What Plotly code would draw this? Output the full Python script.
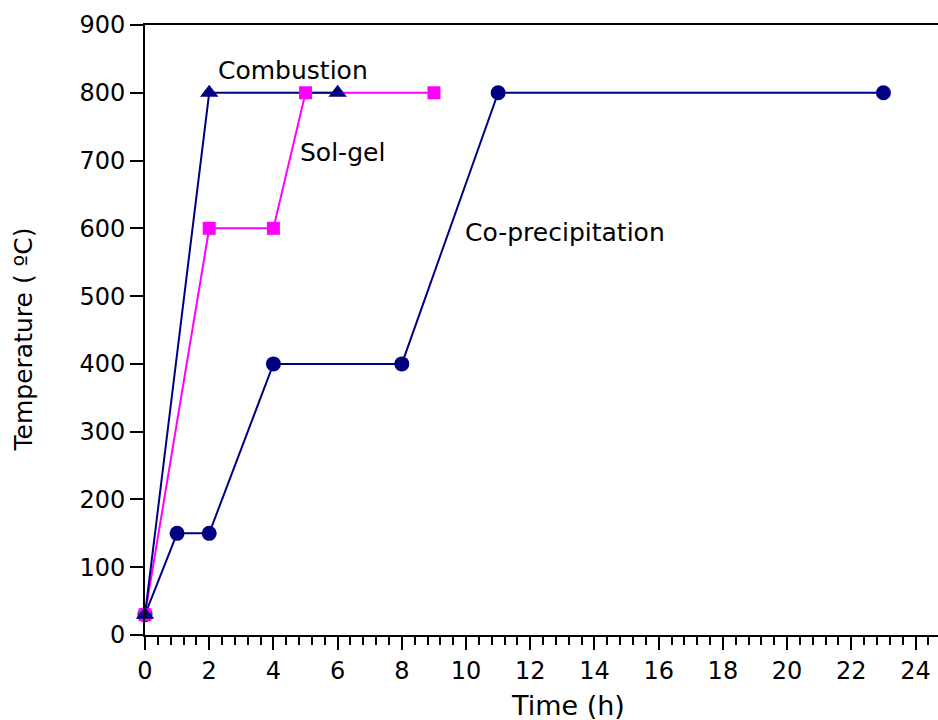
import plotly.graph_objects as go

# Heat-treatment programmes for the three synthesis routes
combustion_time = [0, 2, 6]
combustion_temp = [30, 800, 800]

solgel_time = [0, 2, 4, 5, 9]
solgel_temp = [30, 600, 600, 800, 800]

coprec_time = [0, 1, 2, 4, 8, 11, 23]
coprec_temp = [30, 150, 150, 400, 400, 800, 800]

x_ticks = list(range(0, 25, 2))
y_ticks = list(range(0, 901, 100))

NAVY = "#000080"
MAGENTA = "#FF00FF"
FONT = "DejaVu Sans, Arial, sans-serif"

fig = go.Figure()

# lines first, markers on top (as in the original plotting style)
fig.add_trace(go.Scatter(x=coprec_time, y=coprec_temp, mode="lines",
                         line=dict(color=NAVY, width=2), hoverinfo="skip"))
fig.add_trace(go.Scatter(x=solgel_time, y=solgel_temp, mode="lines",
                         line=dict(color=MAGENTA, width=2), hoverinfo="skip"))
fig.add_trace(go.Scatter(x=combustion_time, y=combustion_temp, mode="lines",
                         line=dict(color=NAVY, width=2), hoverinfo="skip"))

fig.add_trace(go.Scatter(x=coprec_time, y=coprec_temp, mode="markers", name="Co-precipitation",
                         cliponaxis=False,
                         marker=dict(symbol="circle", size=15, color=NAVY)))
fig.add_trace(go.Scatter(x=solgel_time, y=solgel_temp, mode="markers", name="Sol-gel",
                         cliponaxis=False,
                         marker=dict(symbol="square", size=13, color=MAGENTA)))
fig.add_trace(go.Scatter(x=combustion_time, y=combustion_temp, mode="markers", name="Combustion",
                         cliponaxis=False,
                         marker=dict(symbol="triangle-up", size=16, color=NAVY)))

labels = [
    ("Combustion", 2.2, 833),
    ("Sol-gel", 4.75, 712),
    ("Co-precipitation", 9.9, 594),
]
for text, x, y in labels:
    fig.add_annotation(x=x, y=y, xref="x", yref="y", text=text, showarrow=False,
                       xanchor="left", yanchor="middle",
                       font=dict(family=FONT, size=25, color="black"))

fig.add_annotation(x=0.533, y=-0.116, xref="paper", yref="paper", text="Time (h)",
                   showarrow=False, xanchor="center", yanchor="middle",
                   font=dict(family=FONT, size=27, color="black"))
fig.add_annotation(x=-0.153, y=0.484, xref="paper", yref="paper", text="Temperature ( ºC)",
                   showarrow=False, xanchor="center", yanchor="middle", textangle=-90,
                   font=dict(family=FONT, size=25, color="black"))

fig.update_layout(
    width=938, height=720,
    margin=dict(l=145, r=0, t=25, b=85),
    paper_bgcolor="white", plot_bgcolor="white",
    showlegend=False,
    font=dict(family=FONT, color="black"),
)

fig.update_xaxes(
    range=[0, 24.7], tickmode="array", tickvals=x_ticks, ticktext=[str(v) for v in x_ticks],
    showgrid=False, zeroline=False,
    showline=True, linecolor="black", linewidth=2, mirror=True,
    ticks="outside", ticklen=13, tickwidth=2, tickcolor="black",
    minor=dict(dtick=0.4, tick0=0, ticks="outside", ticklen=8, tickwidth=2, tickcolor="black", showgrid=False),
    tickfont=dict(family=FONT, size=24, color="black"),
)
fig.update_yaxes(
    range=[0, 900], tickmode="array", tickvals=y_ticks, ticktext=[str(v) for v in y_ticks],
    showgrid=False, zeroline=False,
    showline=True, linecolor="black", linewidth=2,
    ticks="outside", ticklen=13, tickwidth=2, tickcolor="black",
    tickfont=dict(family=FONT, size=24, color="black"),
)

fig.write_html("out.html")
